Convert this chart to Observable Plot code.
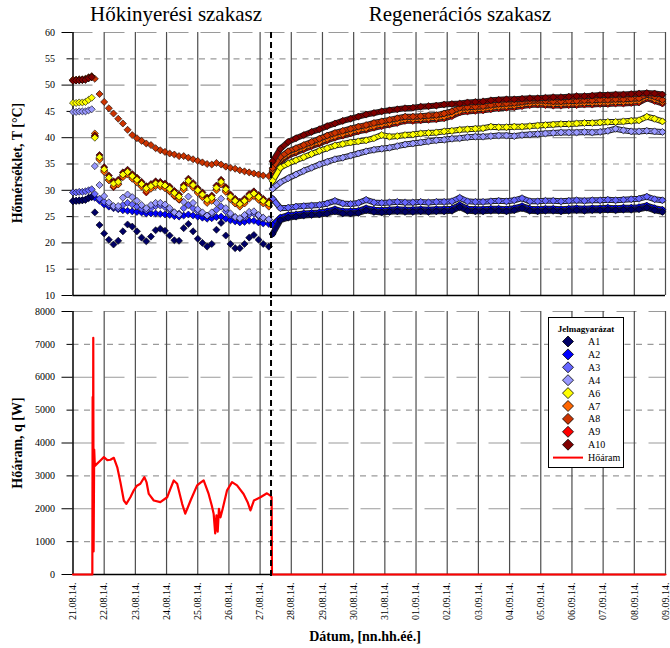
<!DOCTYPE html>
<html><head><meta charset="utf-8">
<script src="https://cdn.jsdelivr.net/npm/d3@7"></script>
<script src="https://cdn.jsdelivr.net/npm/@observablehq/plot@0.6"></script>
<style>
body{margin:0;background:#fff;}
#wrap{position:relative;width:670px;height:648px;font-family:"Liberation Serif","Times New Roman","DejaVu Serif",serif;}
#wrap > svg{position:absolute;left:0;}
#wrap text{font-family:"Liberation Serif","Times New Roman","DejaVu Serif",serif;}
</style></head><body><div id="wrap"></div>
<script>
const FONT = "'Liberation Serif', 'Times New Roman', 'DejaVu Serif', serif";

// x tick labels (one per day, day index 0 = 21.08.14.)
const dayLabels = ["21.08.14.","22.08.14.","23.08.14.","24.08.14.","25.08.14.","26.08.14.","27.08.14.","28.08.14.","29.08.14.","30.08.14.","31.08.14.","01.09.14.","02.09.14.","03.09.14.","04.09.14.","05.09.14.","06.09.14.","07.09.14.","08.09.14.","09.09.14."];
const sectionTitles = ["Hőkinyerési szakasz", "Regenerációs szakasz"];
const separatorDay = 6.35;

// temperature axis ticks
const tempMajor = [20, 30, 40, 50, 60];
const tempMinor = [15, 25, 35, 45, 55];
// heat-flow axis ticks
const heatMajor = [2000, 4000, 6000, 8000];
const heatMinor = [1000, 3000, 5000, 7000];

// sample times (days since 21.08.14. 00:00)
const tExtraction = [0, 0.1, 0.2, 0.3, 0.4, 0.5, 0.6,
  0.7, 0.85, 1.0, 1.15, 1.3, 1.45, 1.6, 1.75, 1.9, 2.05, 2.2, 2.35, 2.5, 2.65, 2.8, 2.95, 3.1, 3.25, 3.4, 3.55, 3.7, 3.85, 4.0, 4.15, 4.3, 4.45, 4.6, 4.75, 4.9, 5.05, 5.2, 5.35, 5.5, 5.65, 5.8, 5.95, 6.1, 6.28];
const tRegen = [6.4, 6.65, 6.9, 7.15, 7.4, 7.65, 7.9, 8.15, 8.4, 8.65, 8.9, 9.15, 9.4, 9.65, 9.9, 10.15, 10.4, 10.65, 10.9, 11.15, 11.4, 11.65, 11.9, 12.15, 12.4, 12.65, 12.9, 13.15, 13.4, 13.65, 13.9, 14.15, 14.4, 14.65, 14.9, 15.15, 15.4, 15.65, 15.9, 16.15, 16.4, 16.65, 16.9, 17.15, 17.4, 17.65, 17.9, 18.15, 18.4, 18.65, 18.9];

// temperatures [°C], extraction phase
const A1_ext = [27.9, 28.0, 28.0, 28.1, 28.2, 28.6, 28.8, 25.8, 23.4, 21.8, 20.6, 19.7, 20.4, 22.2, 23.5, 23.1, 22.2, 21.0, 20.3, 21.2, 22.4, 22.7, 22.3, 21.4, 20.5, 20.4, 22.8, 23.6, 22.2, 20.8, 20.0, 19.3, 19.8, 22.5, 23.8, 21.4, 19.8, 19.0, 19.0, 19.8, 21.0, 21.5, 20.6, 19.8, 19.3];
const A2_ext = [28.0, 28.0, 28.1, 28.1, 28.2, 28.5, 28.7, 28.6, 28.0, 27.3, 26.9, 26.6, 26.4, 26.2, 26.1, 26.0, 25.9, 25.8, 25.6, 25.6, 25.6, 25.5, 25.4, 25.3, 25.1, 25.0, 25.2, 25.4, 25.2, 25.0, 24.8, 24.6, 24.7, 24.9, 25.0, 24.6, 24.3, 24.1, 23.9, 24.0, 24.2, 24.2, 23.9, 23.7, 23.6];
const A3_ext = [29.6, 29.6, 29.7, 29.7, 29.8, 30.0, 30.2, 29.3, 28.4, 27.8, 27.3, 26.8, 26.6, 27.2, 27.6, 27.3, 26.9, 26.5, 26.2, 26.6, 27.0, 27.1, 26.8, 26.3, 25.8, 25.6, 26.6, 27.2, 26.6, 26.0, 25.6, 25.2, 25.5, 26.3, 26.9, 26.0, 25.3, 24.9, 24.6, 24.9, 25.4, 25.6, 25.1, 24.7, 24.4];
const A4_ext = [44.9, 44.9, 45.0, 45.0, 45.0, 45.2, 45.4, 34.6, 31.0, 28.9, 27.7, 27.0, 27.0, 28.6, 29.2, 28.7, 28.0, 27.2, 26.6, 27.2, 27.6, 27.6, 27.3, 26.6, 25.8, 25.4, 27.8, 28.8, 27.6, 26.4, 25.8, 25.2, 25.8, 27.6, 28.4, 26.6, 25.6, 24.9, 24.7, 25.3, 25.9, 26.0, 25.3, 24.8, 24.5];
const A6_ext = [46.6, 46.6, 46.7, 46.7, 46.8, 47.2, 47.6, 40.0, 36.3, 34.0, 32.4, 31.3, 31.6, 33.0, 33.5, 32.7, 32.0, 31.2, 30.4, 30.8, 31.3, 31.2, 30.9, 30.3, 29.5, 28.8, 30.6, 31.8, 31.0, 30.0, 29.2, 28.2, 28.6, 30.5, 31.6, 30.2, 28.8, 28.0, 27.4, 28.0, 28.9, 29.4, 28.7, 28.0, 27.5];
const A7_ext = [51.0, 51.0, 51.1, 51.1, 51.2, 51.5, 51.7, 40.8, 35.8, 33.5, 31.9, 30.8, 31.1, 32.5, 33.0, 32.2, 31.5, 30.7, 29.9, 30.3, 30.8, 30.7, 30.4, 29.8, 29.0, 28.3, 30.1, 31.3, 30.5, 29.5, 28.7, 27.6, 28.0, 30.0, 31.1, 29.7, 28.3, 27.5, 26.9, 27.5, 28.4, 28.9, 28.2, 27.5, 26.9];
const A8_ext = [51.0, 51.0, 51.0, 51.0, 51.1, 51.4, 51.6, 51.2, 48.3, 46.8, 45.6, 44.6, 43.6, 42.7, 41.5, 40.5, 39.9, 39.4, 38.9, 38.6, 38.0, 37.6, 37.3, 37.0, 36.8, 36.5, 36.5, 36.2, 35.9, 35.6, 35.3, 35.0, 34.9, 35.2, 34.9, 34.5, 34.3, 34.1, 33.8, 33.6, 33.4, 33.2, 33.0, 32.8, 32.7];
const A9_ext = [50.9, 50.9, 51.0, 51.0, 51.1, 51.3, 51.5, 40.2, 36.0, 33.7, 32.0, 30.6, 31.2, 32.7, 33.2, 32.4, 31.7, 30.8, 29.6, 30.5, 31.0, 30.9, 30.5, 29.8, 28.9, 28.2, 30.3, 31.5, 30.7, 29.7, 28.8, 27.8, 28.3, 30.2, 31.3, 29.9, 28.4, 27.6, 27.1, 27.7, 28.6, 29.1, 28.4, 27.7, 27.1];
const A10_ext = [50.8, 50.9, 50.9, 51.0, 51.0, 51.3, 51.5, 40.4, 36.7, 34.4, 32.8, 31.7, 32.0, 33.4, 33.9, 33.1, 32.4, 31.6, 30.8, 31.2, 31.7, 31.6, 31.3, 30.7, 29.9, 29.2, 31.0, 32.2, 31.4, 30.4, 29.6, 28.6, 29.0, 30.9, 32.0, 30.6, 29.2, 28.4, 27.8, 28.4, 29.3, 29.8, 29.1, 28.4, 27.9];

// temperatures [°C], regeneration phase
const A1_reg = [21.7, 24.3, 24.8, 25.0, 25.2, 25.3, 25.4, 25.6, 26.0, 25.6, 25.6, 25.7, 26.2, 25.9, 25.8, 25.9, 26.0, 25.9, 25.9, 26.0, 25.9, 26.0, 26.0, 26.1, 26.8, 26.1, 26.0, 26.0, 26.1, 26.1, 26.0, 26.2, 26.6, 26.1, 26.0, 26.1, 26.1, 26.0, 26.1, 26.2, 26.1, 26.2, 26.2, 26.3, 26.2, 26.3, 26.3, 26.4, 26.7, 26.2, 25.9];
const A2_reg = [23.4, 24.8, 25.3, 25.4, 25.6, 25.7, 25.8, 26.0, 26.4, 26.0, 26.0, 26.1, 26.6, 26.3, 26.2, 26.3, 26.4, 26.3, 26.3, 26.4, 26.3, 26.4, 26.4, 26.5, 27.2, 26.5, 26.4, 26.4, 26.5, 26.5, 26.4, 26.6, 27.0, 26.5, 26.4, 26.5, 26.5, 26.4, 26.5, 26.6, 26.5, 26.6, 26.6, 26.7, 26.6, 26.7, 26.7, 26.8, 27.1, 26.6, 26.3];
const A3_reg = [28.4, 26.6, 26.7, 26.9, 27.0, 27.1, 27.2, 27.5, 28.0, 27.5, 27.4, 27.6, 28.2, 27.7, 27.6, 27.7, 27.8, 27.7, 27.7, 27.8, 27.7, 27.8, 27.8, 27.9, 28.6, 27.9, 27.8, 27.8, 27.9, 28.0, 27.9, 28.1, 28.5, 27.9, 27.9, 28.0, 28.0, 27.9, 28.0, 28.1, 28.0, 28.1, 28.1, 28.2, 28.1, 28.2, 28.3, 28.4, 28.8, 28.3, 28.1];
const A4_reg = [30.3, 31.5, 32.3, 33.0, 33.7, 34.3, 34.9, 35.4, 35.9, 36.2, 36.6, 37.0, 37.4, 37.7, 37.9, 38.1, 38.4, 38.7, 38.9, 39.1, 39.3, 39.5, 39.6, 39.8, 39.9, 40.1, 40.2, 40.2, 40.3, 40.4, 40.4, 40.3, 40.5, 40.6, 40.7, 40.8, 40.9, 41.0, 41.0, 41.0, 41.1, 41.0, 41.1, 41.3, 41.7, 41.4, 41.2, 41.2, 41.3, 41.2, 41.1];
const A6_reg = [31.8, 34.3, 35.1, 35.7, 36.3, 36.9, 37.5, 38.0, 38.5, 38.8, 39.1, 39.3, 39.5, 39.9, 40.5, 40.2, 40.3, 40.5, 40.6, 40.8, 40.9, 41.0, 41.2, 41.3, 41.5, 41.6, 41.7, 41.8, 42.1, 42.0, 42.0, 42.1, 42.1, 42.2, 42.3, 42.4, 42.5, 42.6, 42.6, 42.7, 42.8, 42.8, 42.9, 43.0, 43.0, 43.1, 43.2, 43.3, 44.0, 43.6, 43.1];
const A7_reg = [33.8, 35.8, 36.9, 37.5, 38.1, 38.7, 39.2, 39.8, 40.3, 40.7, 41.1, 41.5, 41.8, 42.2, 42.5, 42.8, 43.1, 43.5, 43.5, 43.6, 43.7, 43.8, 44.0, 44.4, 45.1, 45.3, 45.4, 45.5, 45.7, 45.9, 46.0, 46.1, 46.3, 46.5, 46.6, 46.5, 46.4, 46.4, 46.5, 46.5, 46.6, 46.6, 46.7, 46.7, 46.8, 46.8, 46.9, 47.0, 47.8, 47.3, 46.8];
const A8_reg = [34.2, 36.3, 37.4, 38.0, 38.6, 39.2, 39.8, 40.4, 40.9, 41.3, 41.7, 42.1, 42.4, 42.8, 43.1, 43.4, 43.7, 44.0, 44.0, 44.1, 44.2, 44.3, 44.6, 45.0, 45.7, 45.8, 45.9, 46.0, 46.2, 46.4, 46.5, 46.6, 46.8, 47.0, 47.1, 47.0, 46.9, 46.9, 47.0, 47.0, 47.1, 47.1, 47.2, 47.2, 47.3, 47.3, 47.4, 47.5, 48.2, 47.8, 47.2];
const A9_reg = [33.5, 35.5, 36.6, 37.2, 37.8, 38.4, 38.9, 39.5, 40.0, 40.4, 40.8, 41.2, 41.5, 41.9, 42.2, 42.5, 42.8, 43.2, 43.2, 43.3, 43.4, 43.5, 43.7, 44.1, 44.8, 45.0, 45.1, 45.2, 45.4, 45.6, 45.7, 45.8, 46.0, 46.2, 46.3, 46.2, 46.1, 46.1, 46.2, 46.2, 46.3, 46.3, 46.4, 46.4, 46.5, 46.5, 46.6, 46.7, 47.5, 47.0, 46.5];
const A10_reg = [35.5, 37.9, 39.2, 39.9, 40.5, 41.1, 41.6, 42.2, 42.7, 43.2, 43.6, 44.0, 44.4, 44.7, 45.0, 45.2, 45.4, 45.6, 45.7, 45.9, 46.0, 46.1, 46.3, 46.4, 46.5, 46.7, 46.8, 46.9, 47.1, 47.2, 47.3, 47.3, 47.4, 47.5, 47.5, 47.6, 47.7, 47.7, 47.8, 47.9, 47.9, 48.0, 48.1, 48.1, 48.2, 48.2, 48.3, 48.4, 48.5, 48.4, 48.2];

// heat flow [W]
const heatT = [0, 0.62, 0.63, 0.64, 0.65, 0.66, 0.68, 0.7, 0.75, 0.88, 0.99, 1.1, 1.2, 1.31, 1.42, 1.52, 1.63, 1.71, 1.84, 1.95, 2.05, 2.16, 2.29, 2.36, 2.43, 2.59, 2.8, 3.02, 3.12, 3.23, 3.34, 3.5, 3.6, 3.77, 3.98, 4.1, 4.19, 4.35, 4.45, 4.51, 4.56, 4.6, 4.64, 4.68, 4.73, 4.8, 4.94, 5.1, 5.26, 5.47, 5.6, 5.69, 5.8, 6.01, 6.22, 6.33, 6.37, 6.38, 19];
const heatQ = [0, 0, 5400, 1000, 7200, 700, 3800, 3300, 3350, 3470, 3570, 3480, 3490, 3550, 3260, 2810, 2250, 2150, 2350, 2560, 2700, 2760, 2960, 2800, 2450, 2250, 2200, 2350, 2600, 2860, 2760, 2150, 1850, 2250, 2710, 2800, 2860, 2450, 2100, 1850, 1250, 1800, 1300, 2000, 1740, 2000, 2560, 2810, 2710, 2450, 2200, 1950, 2250, 2350, 2470, 2400, 2350, 0, 0];

const seriesNames = ["A1", "A2", "A3", "A4", "A6", "A7", "A8", "A9", "A10"];
const seriesColors = ["#000066", "#0000ff", "#6666ff", "#9999ff", "#ffff00", "#ff6600", "#cc3300", "#ff0000", "#800000"];
const heatName = "Hőáram";
const heatColor = "#ff0000";
const legendTitle = "Jelmagyarázat";
const yTitleTemp = "Hőmérséklet, T [°C]";
const yTitleHeat = "Hőáram, q [W]";
const xTitle = "Dátum, [nn.hh.éé.]";

// ---- build tables ----
const extArrays = [A1_ext, A2_ext, A3_ext, A4_ext, A6_ext, A7_ext, A8_ext, A9_ext, A10_ext];
const regArrays = [A1_reg, A2_reg, A3_reg, A4_reg, A6_reg, A7_reg, A8_reg, A9_reg, A10_reg];
const times = tExtraction.concat(tRegen);
const seriesRows = seriesNames.map((name, i) => {
  const vals = extArrays[i].concat(regArrays[i]);
  return times.map((t, j) => ({t, v: vals[j], s: name}));
});
const regRows = seriesNames.map((name, i) => tRegen.map((t, j) => ({t, v: regArrays[i][j], s: name})));
const heatRows = heatT.map((t, i) => ({t, q: heatQ[i]}));
const dayTicks = dayLabels.map((_, i) => i);
const gridDays = dayTicks.slice(1);
const drawOrder = ["A2", "A1", "A3", "A4", "A9", "A7", "A8", "A10", "A6"];

const dotMarks = drawOrder.flatMap(name => {
  const i = seriesNames.indexOf(name);
  return [
    // densely sampled regeneration readings form a continuous band
    Plot.line(regRows[i], {x: "t", y: "v", stroke: "#222", strokeWidth: 6, strokeLinejoin: "round"}),
    Plot.line(regRows[i], {x: "t", y: "v", stroke: seriesColors[i], strokeWidth: 4, strokeLinejoin: "round"}),
    Plot.dot(seriesRows[i], {x: "t", y: "v", symbol: "diamond2", r: 3.2,
      fill: seriesColors[i], stroke: "#000", strokeWidth: 0.6})
  ];
});

const commonStyle = {fontFamily: FONT, fontSize: "10px", color: "#000", background: "transparent", overflow: "visible"};
const gridColor = "#9a9a9a";
const vGridColor = "#4d4d4d";

const topPlot = Plot.plot({
  width: 670, height: 300,
  marginLeft: 72.5, marginRight: 5, marginTop: 32, marginBottom: 5,
  style: commonStyle,
  x: {domain: [0, 19], axis: null},
  y: {domain: [10, 60], axis: null},
  marks: [
    Plot.ruleY(tempMinor, {stroke: gridColor, strokeWidth: 1.2, strokeDasharray: "6,5.5"}),
    Plot.ruleY(tempMajor, {stroke: gridColor, strokeWidth: 1.2, strokeDasharray: "20,12"}),
    Plot.ruleX(gridDays, {stroke: vGridColor, strokeWidth: 1.2}),
    Plot.ruleX([0], {stroke: "#000", strokeWidth: 1.5}),
    Plot.ruleY([10], {stroke: "#000", strokeWidth: 1.5}),
    Plot.axisY(tempMajor.concat([10]), {anchor: "left", tickSize: 11, tickPadding: 7, fontSize: 10, label: null}),
    Plot.axisY(tempMinor, {anchor: "left", tickSize: 6, tickPadding: 12, fontSize: 10, label: null}),
    ...dotMarks,
    Plot.ruleX([separatorDay], {stroke: "#000", strokeWidth: 2, strokeDasharray: "6,4", insetBottom: -5})
  ]
});

const bottomPlot = Plot.plot({
  width: 670, height: 348,
  marginLeft: 72.5, marginRight: 5, marginTop: 11, marginBottom: 74,
  style: commonStyle,
  x: {domain: [0, 19], axis: null},
  y: {domain: [0, 8000], axis: null},
  marks: [
    Plot.ruleY(heatMinor, {stroke: gridColor, strokeWidth: 1.2, strokeDasharray: "6,5.5"}),
    Plot.ruleY(heatMajor, {stroke: gridColor, strokeWidth: 1.2, strokeDasharray: "20,12"}),
    Plot.ruleX(gridDays, {stroke: vGridColor, strokeWidth: 1.2}),
    Plot.ruleX([0], {stroke: "#000", strokeWidth: 1.5}),
    Plot.ruleY([0], {stroke: "#000", strokeWidth: 1.5}),
    Plot.axisY(heatMajor.concat([0]), {anchor: "left", tickSize: 11, tickPadding: 7, fontSize: 10, label: null, tickFormat: d => String(d)}),
    Plot.axisY(heatMinor, {anchor: "left", tickSize: 6, tickPadding: 12, fontSize: 10, label: null, tickFormat: d => String(d)}),
    Plot.axisX(dayTicks, {anchor: "bottom", tickSize: 0, tickPadding: 8, tickRotate: -90, fontSize: 10, label: null, tickFormat: i => dayLabels[i]}),
    Plot.line(heatRows, {x: "t", y: "q", stroke: heatColor, strokeWidth: 2.2}),
    Plot.ruleX([separatorDay], {stroke: "#000", strokeWidth: 2, strokeDasharray: "6,4", insetTop: -11, insetBottom: -3})
  ]
});

const wrap = document.getElementById("wrap");
topPlot.style.top = "0px";
bottomPlot.style.top = "300px";
wrap.appendChild(topPlot);
wrap.appendChild(bottomPlot);

// ---- titles overlay ----
const ov = d3.select(wrap).append("svg")
  .attr("width", 670).attr("height", 648)
  .style("top", "0px").style("pointer-events", "none")
  .attr("font-family", FONT);
ov.append("text").attr("x", 176).attr("y", 21).attr("text-anchor", "middle")
  .attr("font-size", 21).text(sectionTitles[0]);
ov.append("text").attr("x", 460).attr("y", 21).attr("text-anchor", "middle")
  .attr("font-size", 21).text(sectionTitles[1]);
ov.append("text").attr("transform", "translate(22,163) rotate(-90)").attr("text-anchor", "middle")
  .attr("font-size", 14).attr("font-weight", "bold").text(yTitleTemp);
ov.append("text").attr("transform", "translate(21.5,443) rotate(-90)").attr("text-anchor", "middle")
  .attr("font-size", 14).attr("font-weight", "bold").text(yTitleHeat);
ov.append("text").attr("x", 365).attr("y", 641).attr("text-anchor", "middle")
  .attr("font-size", 14).attr("font-weight", "bold").text(xTitle);

// ---- legend ----
const lg = d3.select(wrap).append("svg")
  .attr("width", 78).attr("height", 153)
  .style("left", "547px").style("top", "316px")
  .attr("font-family", FONT);
lg.append("rect").attr("x", 1.5).attr("y", 1.5).attr("width", 75).attr("height", 150)
  .attr("fill", "#fff").attr("stroke", "#000").attr("stroke-width", 1);
lg.append("text").attr("x", 39).attr("y", 16).attr("text-anchor", "middle")
  .attr("font-size", 9).attr("font-weight", "bold").text(legendTitle);
const rowY0 = 25.5, rowStep = 12.9, dx = 21, h = 5.5;
seriesNames.forEach((name, i) => {
  const y = rowY0 + i * rowStep;
  lg.append("polygon")
    .attr("points", `${dx},${y - h} ${dx + h},${y} ${dx},${y + h} ${dx - h},${y}`)
    .attr("fill", seriesColors[i]).attr("stroke", "#000").attr("stroke-width", 0.8);
  lg.append("text").attr("x", 41).attr("y", y + 3.5).attr("font-size", 10).text(name);
});
{
  const y = rowY0 + seriesNames.length * rowStep;
  lg.append("line").attr("x1", 6).attr("x2", 36).attr("y1", y).attr("y2", y)
    .attr("stroke", heatColor).attr("stroke-width", 2);
  lg.append("text").attr("x", 41).attr("y", y + 3.5).attr("font-size", 10).text(heatName);
}
</script></body></html>
